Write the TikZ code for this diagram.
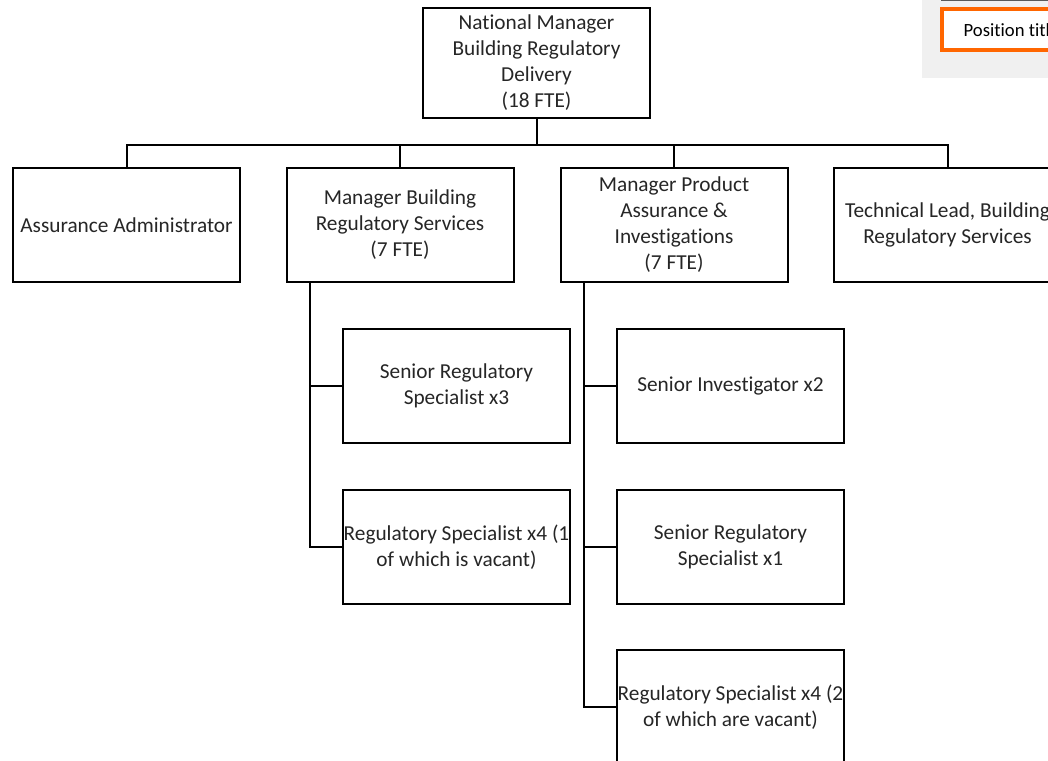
\documentclass[tikz,border=0pt]{standalone}
\usepackage{fontspec}
\setmainfont{Carlito}[Ligatures=NoCommon]
\usetikzlibrary{calc}
\definecolor{txt}{RGB}{38,38,38}
\definecolor{legendbg}{RGB}{240,240,240}
\definecolor{legendorange}{RGB}{255,102,0}
\begin{document}
\begin{tikzpicture}[x=1pt,y=-1pt,
  role/.style={draw=black,line width=2pt,fill=white,rectangle,
    minimum width=227pt,minimum height=114pt,inner sep=0pt,
    align=center,text=txt,font=\fontsize{21.3}{26}\selectfont},
  toprole/.style={role,minimum height=110pt},
  link/.style={draw=black,line width=2pt}]
\useasboundingbox (0,0) rectangle (1048,760);
\clip (0,0) rectangle (1048,760);

% legend panel in the corner
\fill[legendbg] (922,0) rectangle (1060,78);
\draw[gray!70!black,line width=1pt] (941,0.5) -- (1060,0.5);
\draw[legendorange,line width=4pt,fill=white] (942,9) rectangle (1080,50);
\node[anchor=base west,text=black,font=\fontsize{18.67}{22}\selectfont,inner sep=0pt] (legend) at (963.5,37) {Position title};

% head of the unit
\node[toprole] (nm) at (536.5,63) {National Manager\\Building Regulatory\\Delivery\\(18 FTE)};

% direct reports
\node[role] (aa) at (126.5,225) {Assurance Administrator};
\node[role] (mbrs) at (400,225) {Manager Building\\Regulatory Services\\(7 FTE)};
\node[role] (mpai) at (674,225) {Manager Product\\Assurance \&\\Investigations\\(7 FTE)};
\node[role] (tl) at (947.5,225) {Technical Lead, Building\\Regulatory Services};

% Building Regulatory Services team
\node[role] (srs3) at (456.5,386) {Senior Regulatory\\Specialist x3};
\node[role] (rs4a) at (456.5,547) {Regulatory Specialist x4 (1\\of which is vacant)};

% Product Assurance & Investigations team
\node[role] (si2) at (730.5,386) {Senior Investigator x2};
\node[role] (srs1) at (730.5,547) {Senior Regulatory\\Specialist x1};
\node[role] (rs4b) at (730.5,707) {Regulatory Specialist x4 (2\\of which are vacant)};

% reporting lines
\coordinate (bus) at (536.5,145);
\draw[link] (nm.south) -- (bus);
\foreach \n in {aa,mbrs,mpai,tl}
  \draw[link] (\n.north) |- (bus);

\coordinate (spineA) at (310,282);
\draw[link] (spineA) |- (srs3.west);
\draw[link] (spineA) |- (rs4a.west);

\coordinate (spineB) at (584,282);
\draw[link] (spineB) |- (si2.west);
\draw[link] (spineB) |- (srs1.west);
\draw[link] (spineB) |- (rs4b.west);
\end{tikzpicture}
\end{document}
